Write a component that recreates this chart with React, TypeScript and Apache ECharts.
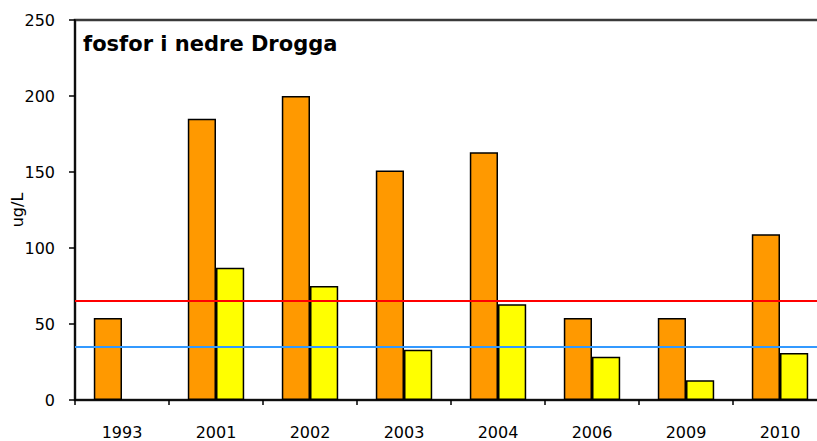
import React, { useEffect, useRef } from "react";
import * as echarts from "echarts";

const years = ["1993", "2001", "2002", "2003", "2004", "2006", "2009", "2010"];
const orangeValues = [54, 185, 200, 151, 163, 54, 54, 109];
const yellowValues: (number | null)[] = [null, 87, 75, 33, 63, 28.5, 13, 31];
const redLimit = 65;
const blueLimit = 35;
const titleText = "fosfor i nedre Drogga";
const yAxisName = "ug/L";

export default function App() {
  const ref = useRef<HTMLDivElement>(null);
  useEffect(() => {
    document.body.style.margin = "0";
    if (!ref.current) return;
    const chart = echarts.init(ref.current, undefined, { renderer: "svg" });
    const font = "DejaVu Sans";
    chart.setOption({
      animation: false,
      backgroundColor: "#ffffff",
      grid: {
        left: 75,
        top: 20,
        bottom: 41,
        right: -10,
        outerBoundsMode: "none",
        containLabel: false,
        show: true,
        borderColor: "#3a3a3a",
        borderWidth: 2.5,
        backgroundColor: "transparent",
      },
      graphic: [
        {
          type: "text",
          left: 83,
          top: 33,
          style: {
            text: titleText,
            font: `bold 21px "${font}"`,
            fill: "#000",
          },
        },
      ],
      xAxis: {
        type: "category",
        data: years,
        axisLine: { lineStyle: { color: "#000", width: 1.5 } },
        axisTick: { show: true, length: 5, lineStyle: { color: "#000", width: 1.5 } },
        axisLabel: { color: "#000", fontFamily: font, fontSize: 16, margin: 24 },
        splitLine: { show: false },
      },
      yAxis: {
        type: "value",
        min: 0,
        max: 250,
        interval: 50,
        name: yAxisName,
        nameLocation: "middle",
        nameGap: 50,
        nameMoveOverlap: false,
        nameTextStyle: { color: "#000", fontFamily: font, fontSize: 16 },
        axisLine: { show: true, lineStyle: { color: "#000", width: 1.5 } },
        axisTick: { show: true, length: 6, lineStyle: { color: "#000", width: 1.5 } },
        axisLabel: { color: "#000", fontFamily: font, fontSize: 16, margin: 20 },
        splitLine: { show: false },
      },
      series: [
        {
          name: "maks",
          type: "bar",
          data: orangeValues,
          barGap: "0%",
          barCategoryGap: "40%",
          itemStyle: { color: "#FF9900", borderColor: "#000", borderWidth: 1.5 },
          markLine: {
            silent: true,
            symbol: "none",
            label: { show: false },
            data: [
              { yAxis: redLimit, lineStyle: { color: "#FF0000", width: 2, type: "solid" } },
              { yAxis: blueLimit, lineStyle: { color: "#3399FF", width: 2, type: "solid" } },
            ],
          },
        },
        {
          name: "middel",
          type: "bar",
          data: yellowValues,
          itemStyle: { color: "#FFFF00", borderColor: "#000", borderWidth: 1.5 },
        },
      ],
    });
    return () => chart.dispose();
  }, []);
  return <div ref={ref} style={{ width: 817, height: 441 }} />;
}
